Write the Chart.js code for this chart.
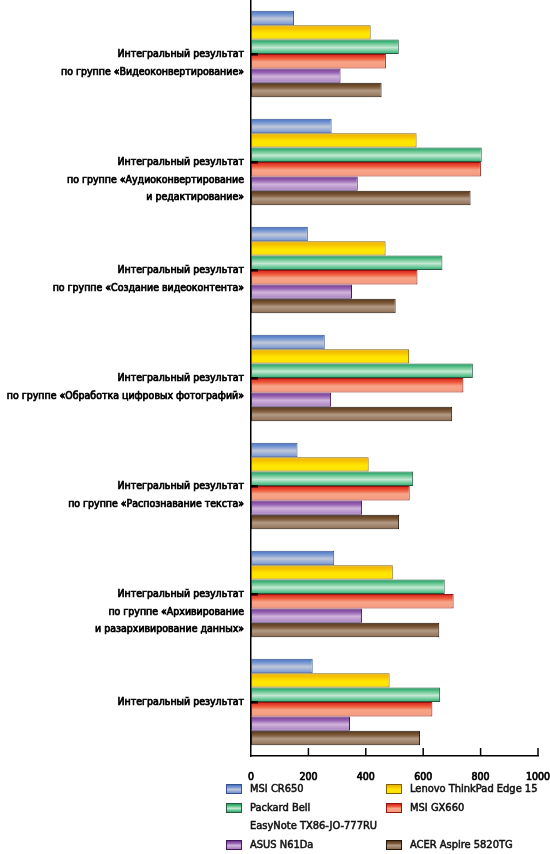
<!DOCTYPE html>
<html>
<head>
<meta charset="utf-8">
<script src="https://cdn.jsdelivr.net/npm/chart.js@4"></script>
<style>
  body { margin: 0; background: #fff; }
  #wrap { position: relative; width: 550px; height: 854px; }
  #chart { position: absolute; left: 0; top: 0; }
  #legend {
    position: absolute; left: 226px; top: 780px;
    display: grid; grid-template-columns: 160px 160px;
    font-family: 'DejaVu Sans Condensed', sans-serif;
    font-size: 11px; line-height: 18.5px; color: #111;
    -webkit-text-stroke: 0.5px #111;
    white-space: nowrap;
  }
  .item { display: flex; align-items: flex-start; }
  .box { width: 16px; height: 10px; margin: 4px 8px 0 0; flex: none; box-sizing: border-box; border: 1px solid; }
</style>
</head>
<body>
<div id="wrap">
  <canvas id="chart"></canvas>
  <div id="legend"></div>
</div>
<script>
const categories = [
    ['Интегральный результат', 'по группе «Видеоконвертирование»'],
    ['Интегральный результат', 'по группе «Аудиоконвертирование', 'и редактирование»'],
    ['Интегральный результат', 'по группе «Создание видеоконтента»'],
    ['Интегральный результат', 'по группе «Обработка цифровых фотографий»'],
    ['Интегральный результат', 'по группе «Распознавание текста»'],
    ['Интегральный результат', 'по группе «Архивирование', 'и разархивирование данных»'],
    ['Интегральный результат']
];

const seriesNames = [
    'MSI CR650',
    'Lenovo ThinkPad Edge 15',
    ['Packard Bell', 'EasyNote TX86-JO-777RU'],
    'MSI GX660',
    'ASUS N61Da',
    'ACER Aspire 5820TG'
];

const msiCR650 = [150, 281, 198, 257, 162, 290, 215];
const lenovoEdge15 = [417, 577, 469, 551, 410, 494, 483];
const packardBell = [515, 804, 667, 773, 565, 675, 659];
const msiGX660 = [470, 801, 580, 740, 553, 706, 632];
const asusN61Da = [312, 372, 352, 279, 387, 387, 345];
const acer5820TG = [455, 765, 504, 701, 516, 656, 589];

const xTicks = [0, 200, 400, 600, 800, 1000];

// gradient stops top -> bottom, and border colour per series
const fills = [
    ['#4872bd', '#7d9dd5', '#c1c8d9', '#6f92d2'],
    ['#f0ae00', '#f7c800', '#ffe600', '#ffe200'],
    ['#139e5d', '#6fc996', '#c3e8d2', '#25ad6b'],
    ['#d4201a', '#ef5a3c', '#f7a488', '#f59a7e'],
    ['#6f3290', '#9a68b4', '#d0b4dc', '#a57bbd'],
    ['#553719', '#7d5a3a', '#b39a84', '#8c6c52']
];
const borders = ['#34538f', '#7f6205', '#2f5843', '#961410', '#43195a', '#24160a'];

const allSeries = [msiCR650, lenovoEdge15, packardBell, msiGX660, asusN61Da, acer5820TG];
const CAT_PCT = 0.8;
const FONT = "'DejaVu Sans Condensed', sans-serif";

function barFill(ctx) {
    const stops = fills[ctx.datasetIndex];
    const ys = ctx.chart.scales.y;
    if (ctx.type !== 'data' || !ys || !(ys.height > 0)) return stops[2];
    const n = allSeries.length;
    const groupH = ys.height / categories.length * CAT_PCT;
    const top = ys.getPixelForValue(ctx.dataIndex) - groupH / 2 + ctx.datasetIndex * groupH / n;
    if (!isFinite(top) || !isFinite(groupH)) return stops[2];
    const g = ctx.chart.ctx.createLinearGradient(0, top, 0, top + groupH / n);
    g.addColorStop(0, stops[0]);
    g.addColorStop(0.3, stops[1]);
    g.addColorStop(0.55, stops[2]);
    g.addColorStop(1, stops[3]);
    return g;
}

// small marks drawn inside the plot, like in the original
const innerTicks = {
    id: 'innerTicks',
    afterDraw(chart) {
        const c = chart.ctx, xs = chart.scales.x, ys = chart.scales.y, area = chart.chartArea;
        c.save();
        c.strokeStyle = '#000';
        c.lineWidth = 1.5;
        xs.ticks.forEach((t, i) => {
            if (i === 0) return;
            const x = xs.getPixelForTick(i);
            c.beginPath();
            c.moveTo(x, area.bottom);
            c.lineTo(x, area.bottom - 8);
            c.stroke();
        });
        c.fillStyle = '#000';
        ys.ticks.forEach((t, i) => {
            const y = ys.getPixelForTick(i);
            c.fillRect(area.left, y - 1, 7, 2.5);
        });
        c.restore();
    }
};

const canvas = document.getElementById('chart');
canvas.width = 550;
canvas.height = 782;
canvas.style.width = '550px';
canvas.style.height = '782px';

const chart = new Chart(canvas.getContext('2d'), {
    type: 'bar',
    data: {
        labels: categories,
        datasets: allSeries.map((vals, i) => ({
            label: Array.isArray(seriesNames[i]) ? seriesNames[i].join(' ') : seriesNames[i],
            data: vals,
            backgroundColor: barFill,
            borderColor: borders[i],
            borderWidth: 1,
            borderSkipped: false,
            categoryPercentage: CAT_PCT,
            barPercentage: 1.0
        }))
    },
    options: {
        indexAxis: 'y',
        responsive: false,
        animation: false,
        layout: { padding: { top: 0, right: 12, left: 0, bottom: 0 } },
        plugins: { legend: { display: false }, tooltip: { enabled: false } },
        scales: {
            x: {
                min: 0,
                max: 1000,
                afterBuildTicks: scale => { scale.ticks = xTicks.map(v => ({ value: v })); },
                afterFit: scale => {
                    scale.height = 26;
                    scale.paddingLeft = 0;
                    scale.paddingRight = 0;
                },
                grid: { display: false },
                border: { display: true, color: '#000', width: 1.5 },
                ticks: {
                    padding: 7,
                    color: '#000',
                    textStrokeColor: '#000',
                    textStrokeWidth: 0.7,
                    font: { family: FONT, size: 10.5 },
                    callback: v => String(v)
                }
            },
            y: {
                afterFit: scale => {
                    scale.width = 251;
                    scale.paddingTop = 0;
                    scale.paddingBottom = 0;
                },
                grid: { display: false },
                border: { display: true, color: '#000', width: 1.5 },
                ticks: {
                    padding: -1,
                    color: '#000',
                    textStrokeColor: '#000',
                    textStrokeWidth: 0.7,
                    autoSkip: false,
                    font: { family: FONT, size: 10.5, lineHeight: 1.7 },
                    // first line sits on the category centre, the rest below it
                    callback: (v, i) => {
                        const lines = categories[i];
                        return Array(lines.length - 1).fill('').concat(lines);
                    }
                }
            }
        }
    },
    plugins: [innerTicks]
});
chart.update();

const legend = document.getElementById('legend');
seriesNames.forEach((name, i) => {
    const item = document.createElement('div');
    item.className = 'item';
    const box = document.createElement('span');
    box.className = 'box';
    const f = fills[i];
    box.style.background = `linear-gradient(${f[0]}, ${f[1]} 30%, ${f[2]} 55%, ${f[3]})`;
    box.style.borderColor = borders[i];
    const txt = document.createElement('span');
    txt.innerHTML = Array.isArray(name) ? name.join('<br>') : name;
    item.appendChild(box);
    item.appendChild(txt);
    legend.appendChild(item);
});
</script>
</body>
</html>
